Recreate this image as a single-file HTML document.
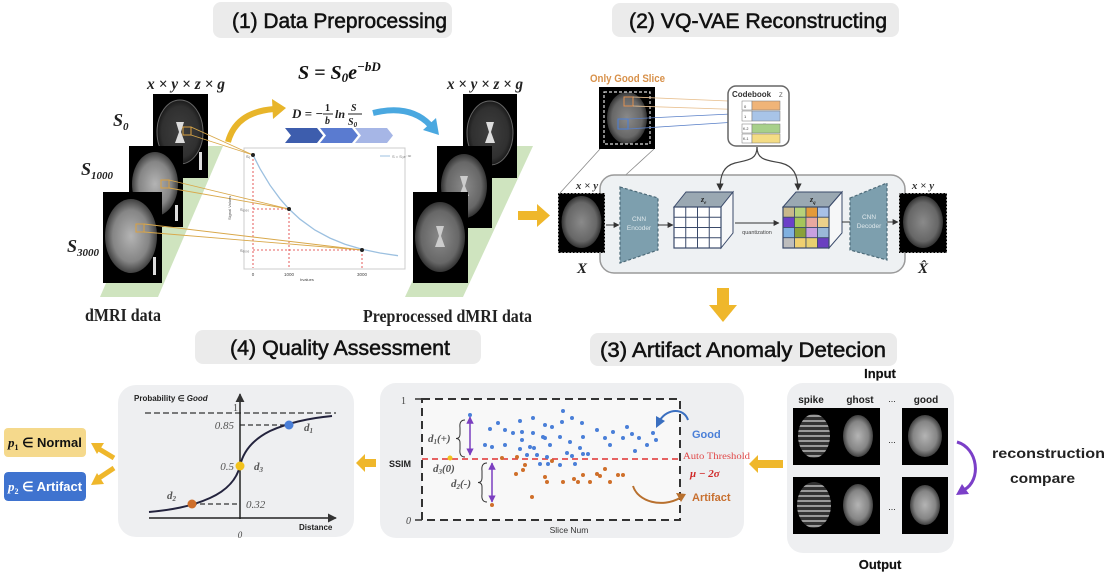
<!DOCTYPE html>
<html><head><meta charset="utf-8">
<style>
html,body{margin:0;padding:0;background:#fff;}
svg{display:block}
.t{font-family:"Liberation Sans",sans-serif;}
.s{font-family:"Liberation Serif",serif;}
.ti{stroke:#111;stroke-width:0.55;}
</style></head><body>
<svg width="1108" height="576" viewBox="0 0 1108 576" xmlns="http://www.w3.org/2000/svg">
<defs>
<radialGradient id="bb" cx="50%" cy="50%" r="50%">
 <stop offset="0" stop-color="#b4b4b4"/><stop offset="0.7" stop-color="#858585"/><stop offset="1" stop-color="#404040"/>
</radialGradient>
<radialGradient id="bm" cx="50%" cy="50%" r="50%">
 <stop offset="0" stop-color="#8a8a8a"/><stop offset="0.75" stop-color="#676767"/><stop offset="1" stop-color="#333"/>
</radialGradient>
<radialGradient id="bd" cx="50%" cy="50%" r="50%">
 <stop offset="0" stop-color="#3e3e3e"/><stop offset="0.8" stop-color="#303030"/><stop offset="1" stop-color="#1a1a1a"/>
</radialGradient>
<pattern id="stripes" width="6" height="5" patternUnits="userSpaceOnUse">
 <rect width="6" height="5" fill="#333"/><rect width="6" height="2" fill="#9a9a9a"/>
</pattern>
<marker id="mk" viewBox="0 0 10 10" refX="9" refY="5" markerWidth="6" markerHeight="6" orient="auto-start-reverse">
 <path d="M0,0 L10,5 L0,10 z" fill="#333"/>
</marker>
<marker id="mp" viewBox="0 0 10 10" refX="9" refY="5" markerWidth="5" markerHeight="5" orient="auto-start-reverse">
 <path d="M0,0 L10,5 L0,10 z" fill="#7b3fc0"/>
</marker>
<clipPath id="p2clip"><rect x="4" y="472" width="82" height="29" rx="4"/></clipPath>
</defs>

<!-- ================= TITLES ================= -->
<rect x="213" y="2" width="239" height="36" rx="8" fill="#ebebeb"/>
<text class="t ti" x="232" y="28" font-size="21" fill="#111" textLength="215" lengthAdjust="spacingAndGlyphs">(1) Data Preprocessing</text>
<rect x="612" y="3" width="287" height="34" rx="8" fill="#ebebeb"/>
<text class="t ti" x="629" y="28" font-size="21" fill="#111" textLength="258" lengthAdjust="spacingAndGlyphs">(2) VQ-VAE Reconstructing</text>
<rect x="195" y="330" width="286" height="34" rx="8" fill="#ebebeb"/>
<text class="t ti" x="230" y="355" font-size="21" fill="#111" textLength="220" lengthAdjust="spacingAndGlyphs">(4) Quality Assessment</text>
<rect x="590" y="333" width="307" height="33" rx="8" fill="#ebebeb"/>
<text class="t ti" x="600" y="357" font-size="21" fill="#111" textLength="286" lengthAdjust="spacingAndGlyphs">(3) Artifact Anomaly Detecion</text>

<!-- ================= PANEL 1 ================= -->
<polygon points="100,297 158,297 223,146 165,146" fill="#cfe4bf"/>
<polygon points="405,297 463,297 533,146 475,146" fill="#cfe4bf"/>

<!-- left brain images -->
<rect x="153" y="94" width="55" height="84" fill="#000"/>
<ellipse cx="180" cy="132" rx="23" ry="32" fill="url(#bd)"/>
<ellipse cx="180" cy="132" rx="23" ry="32" fill="none" stroke="#666" stroke-width="1"/>
<path d="M176,122 L184,122 L181,132 L185,143 L175,143 L179,132 z" fill="#ddd"/>
<rect x="199" y="152" width="3" height="18" fill="#ddd"/>
<rect x="183" y="127" width="8" height="8" fill="none" stroke="#d9a040" stroke-width="1"/>

<rect x="129" y="146" width="54" height="81" fill="#000"/>
<ellipse cx="155" cy="184" rx="23" ry="32" fill="url(#bb)"/>
<rect x="175" y="205" width="3" height="16" fill="#ddd"/>
<rect x="161" y="180" width="8" height="8" fill="none" stroke="#d9a040" stroke-width="1"/>

<rect x="103" y="192" width="59" height="91" fill="#000"/>
<ellipse cx="131" cy="236" rx="26" ry="37" fill="url(#bb)"/>
<rect x="153" y="257" width="3" height="18" fill="#ddd"/>
<rect x="136" y="224" width="8" height="8" fill="none" stroke="#d9a040" stroke-width="1"/>

<!-- labels -->
<text class="s" x="113" y="126" font-size="18" font-weight="bold" font-style="italic" fill="#222">S<tspan font-size="11" dy="4">0</tspan></text>
<text class="s" x="81" y="175" font-size="18" font-weight="bold" font-style="italic" fill="#222">S<tspan font-size="11" dy="4">1000</tspan></text>
<text class="s" x="67" y="252" font-size="18" font-weight="bold" font-style="italic" fill="#222">S<tspan font-size="11" dy="4">3000</tspan></text>
<text class="s" x="147" y="89" font-size="16" font-weight="bold" font-style="italic" fill="#222" textLength="78" lengthAdjust="spacingAndGlyphs">x × y × z × g</text>
<text class="s" x="447" y="89" font-size="16" font-weight="bold" font-style="italic" fill="#222" textLength="76" lengthAdjust="spacingAndGlyphs">x × y × z × g</text>

<!-- formulas -->
<text class="s" x="298" y="79" font-size="20" font-weight="bold" font-style="italic" fill="#111">S = S<tspan font-size="13" dy="3">0</tspan><tspan dy="-3">e</tspan><tspan font-size="13" dy="-8">−bD</tspan></text>
<text class="s" x="292" y="118" font-size="13" font-weight="bold" font-style="italic" fill="#222">D = −</text>
<text class="s" x="325" y="111" font-size="10" font-weight="bold" fill="#222">1</text>
<line x1="323" y1="114" x2="333" y2="114" stroke="#222" stroke-width="1"/>
<text class="s" x="325" y="124" font-size="10" font-weight="bold" font-style="italic" fill="#222">b</text>
<text class="s" x="335" y="118" font-size="12" font-weight="bold" font-style="italic" fill="#222">ln</text>
<text class="s" x="351" y="111" font-size="10" font-weight="bold" font-style="italic" fill="#222">S</text>
<line x1="348" y1="114" x2="362" y2="114" stroke="#222" stroke-width="1"/>
<text class="s" x="348" y="125" font-size="10" font-weight="bold" font-style="italic" fill="#222">S<tspan font-size="7" dy="2">0</tspan></text>

<!-- chevrons -->
<polygon points="285,128 317,128 323,135.5 317,143 285,143 291,135.5" fill="#3d5dad"/>
<polygon points="320,128 352,128 358,135.5 352,143 320,143 326,135.5" fill="#5a7bd0"/>
<polygon points="355,128 387,128 393,135.5 387,143 355,143 361,135.5" fill="#a6b6e6"/>

<!-- curved arrows -->
<path d="M228,142 Q236,112 274,109" stroke="#e8b52a" stroke-width="6" fill="none"/>
<polygon points="286,108 273,119 272,99" fill="#e8b52a"/>
<path d="M373,113 Q410,104 430,125" stroke="#4aa8e0" stroke-width="6" fill="none"/>
<polygon points="439,135 423,130 436,118" fill="#4aa8e0"/>

<!-- chart -->
<rect x="244" y="148" width="161" height="121" fill="#fff" stroke="#ccc" stroke-width="1"/>
<g stroke="#e03030" stroke-width="0.8" stroke-dasharray="2,2" fill="none">
<line x1="253" y1="155" x2="253" y2="268"/>
<line x1="289" y1="209" x2="289" y2="268"/>
<line x1="362" y1="250" x2="362" y2="268"/>
<line x1="253" y1="209" x2="289" y2="209"/>
<line x1="253" y1="250" x2="362" y2="250"/>
</g>
<polyline points="253,155 260,168.7 270,185.2 280,198.8 289,209 300,219.2 315,230.1 330,238.1 345,244.2 362,249.3 380,253 398,255.7" fill="none" stroke="#9cc0e0" stroke-width="1.3"/>
<line x1="380" y1="156" x2="390" y2="156" stroke="#9cc0e0" stroke-width="1"/>
<text class="t" x="392" y="158" font-size="4" fill="#777">S = S₀e⁻ᵇᴰ</text>
<!-- yellow connecting lines -->
<g stroke="#d9a84a" stroke-width="0.9" fill="none">
<line x1="191" y1="127" x2="253" y2="155"/><line x1="191" y1="135" x2="253" y2="155"/>
<line x1="169" y1="180" x2="289" y2="209"/><line x1="169" y1="188" x2="289" y2="209"/>
<line x1="144" y1="224" x2="362" y2="250"/><line x1="144" y1="232" x2="362" y2="250"/>
</g>
<circle cx="253" cy="155" r="2" fill="#222"/>
<circle cx="289" cy="209" r="2" fill="#222"/>
<circle cx="362" cy="250" r="2" fill="#222"/>
<text class="t" x="246" y="158" font-size="4" fill="#555">S₀</text>
<text class="t" x="240" y="211" font-size="4" fill="#555">S₁₀₀₀</text>
<text class="t" x="240" y="252" font-size="4" fill="#555">S₃₀₀₀</text>
<text class="t" x="231" y="220" font-size="4" fill="#555" transform="rotate(-90 231 220)">Signal Values</text>
<text class="t" x="253" y="276" font-size="4.5" fill="#444" text-anchor="middle">0</text>
<text class="t" x="289" y="276" font-size="4.5" fill="#444" text-anchor="middle">1000</text>
<text class="t" x="362" y="276" font-size="4.5" fill="#444" text-anchor="middle">3000</text>
<text class="t" x="307" y="281" font-size="4" fill="#444" text-anchor="middle">bvalues</text>

<!-- right brain images -->
<rect x="463" y="94" width="54" height="84" fill="#000"/>
<ellipse cx="490" cy="133" rx="23" ry="32" fill="url(#bd)"/>
<ellipse cx="490" cy="133" rx="23" ry="32" fill="none" stroke="#666" stroke-width="1"/>
<path d="M486,122 L494,122 L491,132 L495,143 L485,143 L489,132 z" fill="#ddd"/>
<rect x="437" y="146" width="55" height="82" fill="#000"/>
<ellipse cx="464" cy="186" rx="23" ry="32" fill="url(#bm)"/>
<path d="M460,176 L468,176 L465,186 L469,196 L459,196 L463,186 z" fill="#ccc"/>
<rect x="413" y="192" width="55" height="91" fill="#000"/>
<ellipse cx="440" cy="237" rx="25" ry="35" fill="url(#bm)"/>
<path d="M436,226 L444,226 L441,236 L445,247 L435,247 L439,236 z" fill="#ccc"/>

<text class="s" x="85" y="321" font-size="18" font-weight="bold" fill="#222" textLength="76" lengthAdjust="spacingAndGlyphs">dMRI data</text>
<text class="s" x="363" y="322" font-size="18" font-weight="bold" fill="#222" textLength="169" lengthAdjust="spacingAndGlyphs">Preprocessed dMRI data</text>

<!-- right yellow arrow -->
<rect x="518" y="211" width="20" height="9" fill="#efb72b"/>
<polygon points="537,204 550,215.5 537,227" fill="#efb72b"/>

<!-- ================= PANEL 2 ================= -->
<text class="t" x="590" y="82" font-size="11" font-weight="bold" fill="#d8914a" textLength="75" lengthAdjust="spacingAndGlyphs">Only Good Slice</text>
<rect x="599" y="87" width="56" height="62" fill="#000"/>
<ellipse cx="627" cy="118" rx="20" ry="26" fill="url(#bm)"/>
<rect x="604" y="92" width="46" height="52" fill="none" stroke="#ddd" stroke-width="1.2" stroke-dasharray="3,2"/>
<rect x="624" y="97" width="9" height="9" fill="none" stroke="#e09050" stroke-width="1"/>
<rect x="618" y="119" width="10" height="10" fill="none" stroke="#4a7fd8" stroke-width="1"/>
<g stroke-width="0.8" fill="none">
<line x1="633" y1="97" x2="752" y2="102" stroke="#e8c090"/>
<line x1="633" y1="106" x2="752" y2="110" stroke="#e8c090"/>
<line x1="628" y1="119" x2="752" y2="113" stroke="#5a80c8"/>
<line x1="628" y1="129" x2="752" y2="121" stroke="#5a80c8"/>
</g>
<rect x="728" y="86" width="61" height="60" rx="8" fill="#fff" stroke="#666" stroke-width="1.5"/>
<text class="t" x="732" y="97" font-size="8" font-weight="bold" fill="#333">Codebook</text>
<text class="t" x="779" y="97" font-size="6" fill="#555">Z</text>
<g stroke="#777" stroke-width="0.5">
<rect x="742" y="101" width="10" height="9" fill="#fff"/>
<rect x="742" y="111" width="10" height="10" fill="#fff"/>
<rect x="742" y="124" width="10" height="9" fill="#fff"/>
<rect x="742" y="134" width="10" height="9" fill="#fff"/>
<rect x="752" y="101" width="28" height="9" fill="#f0b478"/>
<rect x="752" y="111" width="28" height="10" fill="#a8c4e8"/>
<rect x="752" y="124" width="28" height="9" fill="#a8d08a"/>
<rect x="752" y="134" width="28" height="9" fill="#f4dc84"/>
</g>
<text class="t" x="744" y="108" font-size="4" fill="#333">0</text>
<text class="t" x="744" y="118" font-size="4" fill="#333">1</text>
<text class="t" x="743" y="130" font-size="3.5" fill="#333">K-2</text>
<text class="t" x="743" y="140" font-size="3.5" fill="#333">K-1</text>
<text class="t" x="763" y="124" font-size="4" fill="#333">...</text>

<!-- connecting gray lines -->
<line x1="600" y1="149" x2="560" y2="193" stroke="#888" stroke-width="0.8"/>
<line x1="654" y1="149" x2="606" y2="193" stroke="#888" stroke-width="0.8"/>

<!-- VQ panel -->
<rect x="600" y="175" width="305" height="98" rx="14" fill="#eef1f3" stroke="#9a9a9a" stroke-width="1.5"/>
<path d="M757,147 C757,160 748,160 735,163 C724,166 720,174 720,190" stroke="#444" stroke-width="1.2" fill="none" marker-end="url(#mk)"/>
<path d="M757,147 C757,160 766,160 781,163 C793,166 798,174 798,190" stroke="#444" stroke-width="1.2" fill="none" marker-end="url(#mk)"/>

<!-- X image -->
<rect x="558" y="193" width="47" height="60" fill="#000"/>
<ellipse cx="581.5" cy="222" rx="20" ry="26" fill="url(#bm)"/>
<rect x="558.5" y="193.5" width="46" height="59" fill="none" stroke="#888" stroke-width="1" stroke-dasharray="2,1.5"/>
<text class="s" x="587" y="189" font-size="11" font-weight="bold" font-style="italic" fill="#333" text-anchor="middle">x × y</text>
<text class="s" x="582" y="273" font-size="15" font-weight="bold" font-style="italic" fill="#222" text-anchor="middle">X</text>

<!-- encoder -->
<line x1="606" y1="225" x2="619" y2="225" stroke="#333" stroke-width="1" marker-end="url(#mk)"/>
<polygon points="620,187 658,198 658,250 620,263" fill="#7d9fae" stroke="#4c6a78" stroke-width="1.2" stroke-dasharray="3,2"/>
<text class="t" x="639" y="221" font-size="6.5" fill="#dfe8ec" text-anchor="middle">CNN</text>
<text class="t" x="639" y="230" font-size="6.5" fill="#dfe8ec" text-anchor="middle">Encoder</text>
<line x1="658" y1="225" x2="673" y2="225" stroke="#333" stroke-width="1" marker-end="url(#mk)"/>

<!-- z_e cube -->
<polygon points="674,207 686,192 733,192 721,207" fill="#9aa8b2" stroke="#3a4a6a" stroke-width="1"/>
<polygon points="721,207 733,192 733,233 721,248" fill="#f6f7f8" stroke="#3a4a6a" stroke-width="1"/>
<rect x="674" y="207" width="47" height="41" fill="#fff" stroke="#3a4a6a" stroke-width="1.2"/>
<g stroke="#3a4a6a" stroke-width="1">
<line x1="685.75" y1="207" x2="685.75" y2="248"/><line x1="697.5" y1="207" x2="697.5" y2="248"/><line x1="709.25" y1="207" x2="709.25" y2="248"/>
<line x1="674" y1="217.25" x2="721" y2="217.25"/><line x1="674" y1="227.5" x2="721" y2="227.5"/><line x1="674" y1="237.75" x2="721" y2="237.75"/>
</g>
<text class="s" x="701" y="202" font-size="8" font-weight="bold" font-style="italic" fill="#222">z<tspan font-size="5" dy="2">e</tspan></text>

<line x1="735" y1="223" x2="779" y2="223" stroke="#333" stroke-width="1" marker-end="url(#mk)"/>
<text class="t" x="757" y="234" font-size="5.5" fill="#444" text-anchor="middle">quantization</text>

<!-- z_q cube -->
<polygon points="783,207 796,192 842,192 829,207" fill="#9aa8b2" stroke="#3a4a6a" stroke-width="1"/>
<polygon points="829,207 842,192 842,233 829,248" fill="#f6f7f8" stroke="#3a4a6a" stroke-width="1"/>
<g stroke="#3a4a6a" stroke-width="0.8">
<rect x="783" y="207" width="11.5" height="10.25" fill="#c8b88a"/>
<rect x="794.5" y="207" width="11.5" height="10.25" fill="#b7d27a"/>
<rect x="806" y="207" width="11.5" height="10.25" fill="#e39a3a"/>
<rect x="817.5" y="207" width="11.5" height="10.25" fill="#a8c0e6"/>
<rect x="783" y="217.25" width="11.5" height="10.25" fill="#6b3fc8"/>
<rect x="794.5" y="217.25" width="11.5" height="10.25" fill="#a6c45a"/>
<rect x="806" y="217.25" width="11.5" height="10.25" fill="#e8a8a0"/>
<rect x="817.5" y="217.25" width="11.5" height="10.25" fill="#ecd08a"/>
<rect x="783" y="227.5" width="11.5" height="10.25" fill="#7fb0e0"/>
<rect x="794.5" y="227.5" width="11.5" height="10.25" fill="#8aa03a"/>
<rect x="806" y="227.5" width="11.5" height="10.25" fill="#c8a0e0"/>
<rect x="817.5" y="227.5" width="11.5" height="10.25" fill="#9ab8d8"/>
<rect x="783" y="237.75" width="11.5" height="10.25" fill="#bdbdbd"/>
<rect x="794.5" y="237.75" width="11.5" height="10.25" fill="#f0d070"/>
<rect x="806" y="237.75" width="11.5" height="10.25" fill="#e8d070"/>
<rect x="817.5" y="237.75" width="11.5" height="10.25" fill="#6a3fc0"/>
</g>
<rect x="783" y="207" width="46" height="41" fill="none" stroke="#3a4a6a" stroke-width="1.2"/>
<text class="s" x="810" y="202" font-size="8" font-weight="bold" font-style="italic" fill="#222">z<tspan font-size="5" dy="2">q</tspan></text>

<line x1="842" y1="222" x2="850" y2="222" stroke="#333" stroke-width="1"/>
<polygon points="850,198 887,183 887,260 850,250" fill="#7d9fae" stroke="#4c6a78" stroke-width="1.2" stroke-dasharray="3,2"/>
<text class="t" x="869" y="219" font-size="6.5" fill="#dfe8ec" text-anchor="middle">CNN</text>
<text class="t" x="869" y="228" font-size="6.5" fill="#dfe8ec" text-anchor="middle">Decoder</text>
<line x1="887" y1="222" x2="898" y2="222" stroke="#333" stroke-width="1" marker-end="url(#mk)"/>

<!-- X hat image -->
<rect x="899" y="193" width="48" height="60" fill="#000"/>
<ellipse cx="923" cy="222" rx="20" ry="26" fill="url(#bm)"/>
<rect x="899.5" y="193.5" width="47" height="59" fill="none" stroke="#888" stroke-width="1" stroke-dasharray="2,1.5"/>
<text class="s" x="923" y="189" font-size="11" font-weight="bold" font-style="italic" fill="#333" text-anchor="middle">x × y</text>
<text class="s" x="923" y="273" font-size="15" font-weight="bold" font-style="italic" fill="#222" text-anchor="middle">X̂</text>

<!-- down arrow -->
<rect x="717" y="288" width="12" height="18" fill="#efb72b"/>
<polygon points="709,305 737,305 723,322" fill="#efb72b"/>

<!-- ================= PANEL 4 (sigmoid) ================= -->
<rect x="118" y="385" width="236" height="152" rx="18" fill="#eeeff1"/>
<line x1="145" y1="413" x2="336" y2="413" stroke="#333" stroke-width="1.3" stroke-dasharray="6,3"/>
<line x1="240" y1="425" x2="289" y2="425" stroke="#333" stroke-width="1.3" stroke-dasharray="5,3"/>
<line x1="192" y1="504" x2="240" y2="504" stroke="#333" stroke-width="1.3" stroke-dasharray="5,3"/>
<line x1="240" y1="519" x2="240" y2="394" stroke="#222" stroke-width="1.5" marker-end="url(#mk)"/>
<line x1="149" y1="518" x2="336" y2="518" stroke="#222" stroke-width="1.5" marker-end="url(#mk)"/>
<path d="M149,512 C170,510 190,507 210,498 C228,490 237,478 240,466 C243,452 252,440 270,431 C290,422 310,418 332,416" fill="none" stroke="#23233d" stroke-width="2"/>
<circle cx="240" cy="466" r="4.5" fill="#f2c21c"/>
<circle cx="289" cy="425" r="4.5" fill="#4a7fd8"/>
<circle cx="192" cy="504" r="4.5" fill="#cf6f2a"/>
<text class="t" x="134" y="401" font-size="8" font-weight="bold" fill="#222">Probability ∈ <tspan font-style="italic">Good</tspan></text>
<text class="s" x="233" y="411" font-size="10" fill="#444">1</text>
<text class="s" x="234" y="429" font-size="11" font-style="italic" fill="#555" text-anchor="end">0.85</text>
<text class="s" x="234" y="470" font-size="11" font-style="italic" fill="#555" text-anchor="end">0.5</text>
<text class="s" x="246" y="508" font-size="11" font-style="italic" fill="#555">0.32</text>
<text class="s" x="304" y="431" font-size="11" font-style="italic" font-weight="bold" fill="#555">d<tspan font-size="7" dy="2">1</tspan></text>
<text class="s" x="254" y="470" font-size="11" font-style="italic" font-weight="bold" fill="#555">d<tspan font-size="7" dy="2">3</tspan></text>
<text class="s" x="167" y="499" font-size="11" font-style="italic" font-weight="bold" fill="#555">d<tspan font-size="7" dy="2">2</tspan></text>
<text class="t" x="299" y="530" font-size="8" font-weight="bold" fill="#222">Distance</text>
<text class="s" x="240" y="538" font-size="9" font-style="italic" fill="#444" text-anchor="middle">0</text>

<!-- left result boxes -->
<rect x="4" y="428" width="82" height="29" rx="4" fill="#f5d98c"/>
<text x="8" y="447" font-size="13" font-weight="bold" fill="#111"><tspan class="s" font-style="italic">p</tspan><tspan class="s" font-size="8" dy="3">1</tspan><tspan class="t" dy="-3"> ∈ Normal</tspan></text>
<g clip-path="url(#p2clip)">
<rect x="4" y="472" width="82" height="29" rx="4" fill="#3f73cf"/>
<text x="8" y="491" font-size="13" font-weight="bold" fill="#fff"><tspan class="s" font-style="italic">p</tspan><tspan class="s" font-size="8" dy="3">2</tspan><tspan class="t" dy="-3"> ∈ Artifact</tspan></text>
</g>
<line x1="114" y1="458" x2="99" y2="449" stroke="#efb72b" stroke-width="5"/>
<polygon points="91,443 104,443 97,454" fill="#efb72b"/>
<line x1="114" y1="468" x2="99" y2="478" stroke="#efb72b" stroke-width="5"/>
<polygon points="91,485 97,473 104,484" fill="#efb72b"/>

<rect x="364" y="459" width="12" height="8" fill="#efb72b"/>
<polygon points="365,454 365,472 356,463" fill="#efb72b"/>

<!-- ================= PANEL 3 (scatter) ================= -->
<rect x="380" y="383" width="364" height="155" rx="16" fill="#eeeff1"/>
<rect x="422" y="399" width="258" height="121" fill="#f8f8f8" stroke="#333" stroke-width="2" stroke-dasharray="8,5"/>
<line x1="415" y1="399" x2="422" y2="399" stroke="#333" stroke-width="1.5"/>
<line x1="415" y1="520" x2="422" y2="520" stroke="#333" stroke-width="1.5"/>
<text class="s" x="401" y="404" font-size="10" fill="#444">1</text>
<text class="s" x="406" y="524" font-size="10" font-style="italic" fill="#444">0</text>
<text class="t" x="389" y="467" font-size="9" font-weight="bold" fill="#222">SSIM</text>
<line x1="422" y1="459" x2="680" y2="459" stroke="#e03030" stroke-width="1.6" stroke-dasharray="6,4"/>
<text class="s" x="683" y="459" font-size="9" fill="#e04848" textLength="67" lengthAdjust="spacingAndGlyphs">Auto Threshold</text>
<text class="s" x="690" y="477" font-size="11" font-weight="bold" font-style="italic" fill="#d02828">μ − 2σ</text>
<text class="t" x="692" y="438" font-size="11" font-weight="bold" fill="#4a7fd8">Good</text>
<text class="t" x="692" y="501" font-size="11" font-weight="bold" fill="#c87030">Artifact</text>
<text class="t" x="569" y="533" font-size="8.5" fill="#333" text-anchor="middle">Slice Num</text>

<text class="s" x="428" y="442" font-size="11" font-style="italic" font-weight="bold" fill="#555">d<tspan font-size="7" dy="2">1</tspan><tspan dy="-2">(+)</tspan></text>
<path d="M465,420 Q459,420 460,428 L460,434 Q460,438.5 456,438.5 Q460,438.5 460,443 L460,449 Q459,457 465,457" fill="none" stroke="#333" stroke-width="1"/>
<line x1="470" y1="417" x2="470" y2="455" stroke="#7b3fc0" stroke-width="1.5" marker-start="url(#mp)" marker-end="url(#mp)"/>
<text class="s" x="433" y="472" font-size="11" font-style="italic" font-weight="bold" fill="#555">d<tspan font-size="7" dy="2">3</tspan><tspan dy="-2">(0)</tspan></text>
<text class="s" x="451" y="487" font-size="11" font-style="italic" font-weight="bold" fill="#555">d<tspan font-size="7" dy="2">2</tspan><tspan dy="-2">(-)</tspan></text>
<path d="M487,463 Q481,463 482,471 L482,478 Q482,482.5 478,482.5 Q482,482.5 482,487 L482,494 Q481,502 487,502" fill="none" stroke="#333" stroke-width="1"/>
<line x1="492" y1="463" x2="492" y2="502" stroke="#7b3fc0" stroke-width="1.5" marker-start="url(#mp)" marker-end="url(#mp)"/>
<circle cx="450" cy="458" r="2.5" fill="#f2c21c"/>

<g fill="#4a7fd8">
<circle cx="470" cy="415" r="2"/><circle cx="498" cy="423" r="2"/><circle cx="490" cy="429" r="2"/><circle cx="505" cy="430" r="2"/>
<circle cx="513" cy="433" r="2"/><circle cx="522" cy="432" r="2"/><circle cx="533" cy="418" r="2"/><circle cx="520" cy="421" r="2"/>
<circle cx="545" cy="425" r="2"/><circle cx="552" cy="427" r="2"/><circle cx="563" cy="411" r="2"/><circle cx="562" cy="422" r="2"/>
<circle cx="572" cy="418" r="2"/><circle cx="582" cy="423" r="2"/><circle cx="560" cy="437" r="2"/><circle cx="545" cy="438" r="2"/>
<circle cx="533" cy="433" r="2"/><circle cx="522" cy="440" r="2"/><circle cx="485" cy="445" r="2"/><circle cx="492" cy="447" r="2"/>
<circle cx="505" cy="445" r="2"/><circle cx="520" cy="449" r="2"/><circle cx="530" cy="447" r="2"/><circle cx="534" cy="448" r="2"/>
<circle cx="537" cy="455" r="2"/><circle cx="527" cy="455" r="2"/><circle cx="547" cy="457" r="2"/><circle cx="550" cy="445" r="2"/>
<circle cx="570" cy="442" r="2"/><circle cx="583" cy="437" r="2"/><circle cx="580" cy="448" r="2"/><circle cx="588" cy="454" r="2"/>
<circle cx="597" cy="430" r="2"/><circle cx="605" cy="438" r="2"/><circle cx="613" cy="432" r="2"/><circle cx="610" cy="445" r="2"/>
<circle cx="623" cy="438" r="2"/><circle cx="627" cy="427" r="2"/><circle cx="632" cy="434" r="2"/><circle cx="639" cy="438" r="2"/>
<circle cx="647" cy="445" r="2"/><circle cx="653" cy="433" r="2"/><circle cx="656" cy="440" r="2"/><circle cx="635" cy="451" r="2"/>
<circle cx="567" cy="453" r="2"/><circle cx="572" cy="456" r="2"/><circle cx="540" cy="464" r="2"/><circle cx="548" cy="464" r="2"/>
<circle cx="560" cy="465" r="2"/><circle cx="575" cy="464" r="2"/><circle cx="583" cy="454" r="2"/><circle cx="543" cy="437" r="2"/>
</g>
<g fill="#cf6f2a">
<circle cx="502" cy="458" r="2"/><circle cx="517" cy="457" r="2"/><circle cx="525" cy="465" r="2"/><circle cx="523" cy="470" r="2"/>
<circle cx="516" cy="474" r="2"/><circle cx="545" cy="477" r="2"/><circle cx="547" cy="482" r="2"/><circle cx="552" cy="461" r="2"/>
<circle cx="563" cy="482" r="2"/><circle cx="574" cy="479" r="2"/><circle cx="578" cy="482" r="2"/><circle cx="583" cy="475" r="2"/>
<circle cx="590" cy="482" r="2"/><circle cx="597" cy="474" r="2"/><circle cx="600" cy="476" r="2"/><circle cx="605" cy="469" r="2"/>
<circle cx="610" cy="482" r="2"/><circle cx="618" cy="475" r="2"/><circle cx="623" cy="475" r="2"/><circle cx="532" cy="497" r="2"/>
<circle cx="492" cy="505" r="2"/>
</g>
<path d="M688,420 C684,408 668,408 660,420" fill="none" stroke="#3a6fc0" stroke-width="2"/>
<polygon points="656,428 656,416 665,421" fill="#3a6fc0"/>
<path d="M633,486 C638,502 662,508 680,498" fill="none" stroke="#b8702e" stroke-width="2"/>
<polygon points="686,494 676,493 681,502" fill="#b8702e"/>

<rect x="757" y="460" width="26" height="8" fill="#efb72b"/>
<polygon points="758,455 758,473 749,464" fill="#efb72b"/>

<!-- ================= RIGHT PANEL ================= -->
<text class="t ti" x="880" y="378" font-size="13" font-weight="bold" fill="#111" text-anchor="middle" style="stroke-width:0.2">Input</text>
<rect x="787" y="383" width="167" height="170" rx="16" fill="#eeeff1"/>
<text class="t" x="811" y="403" font-size="10" font-weight="bold" fill="#222" text-anchor="middle">spike</text>
<text class="t" x="860" y="403" font-size="10" font-weight="bold" fill="#222" text-anchor="middle">ghost</text>
<text class="t" x="892" y="402" font-size="9" fill="#222" text-anchor="middle">...</text>
<text class="t" x="926" y="403" font-size="10" font-weight="bold" fill="#222" text-anchor="middle">good</text>

<rect x="793" y="408" width="87" height="57" fill="#000"/>
<ellipse cx="814" cy="436" rx="16" ry="22" fill="url(#stripes)"/>
<ellipse cx="858" cy="436" rx="15" ry="21" fill="url(#bb)"/>
<rect x="902" y="408" width="46" height="57" fill="#000"/>
<ellipse cx="925" cy="436" rx="17" ry="21" fill="url(#bb)"/>
<text class="t" x="892" y="443" font-size="9" fill="#222" text-anchor="middle">...</text>

<rect x="793" y="477" width="87" height="57" fill="#000"/>
<ellipse cx="814" cy="505" rx="17" ry="23" fill="url(#stripes)"/>
<ellipse cx="858" cy="505" rx="15" ry="21" fill="url(#bb)"/>
<rect x="902" y="477" width="46" height="57" fill="#000"/>
<ellipse cx="925" cy="505" rx="15" ry="20" fill="url(#bb)"/>
<text class="t" x="892" y="510" font-size="9" fill="#222" text-anchor="middle">...</text>
<text class="t ti" x="880" y="569" font-size="13" font-weight="bold" fill="#111" text-anchor="middle" style="stroke-width:0.2">Output</text>

<path d="M957,442 C978,448 982,480 964,490" fill="none" stroke="#7b3fc8" stroke-width="3"/>
<polygon points="956,495 962,484 969,494" fill="#7b3fc8"/>

<text class="t" x="992" y="458" font-size="14" font-weight="bold" fill="#222" textLength="113" lengthAdjust="spacingAndGlyphs">reconstruction</text>
<text class="t" x="1010" y="483" font-size="14" font-weight="bold" fill="#222" textLength="65" lengthAdjust="spacingAndGlyphs">compare</text>
</svg>
</body></html>
